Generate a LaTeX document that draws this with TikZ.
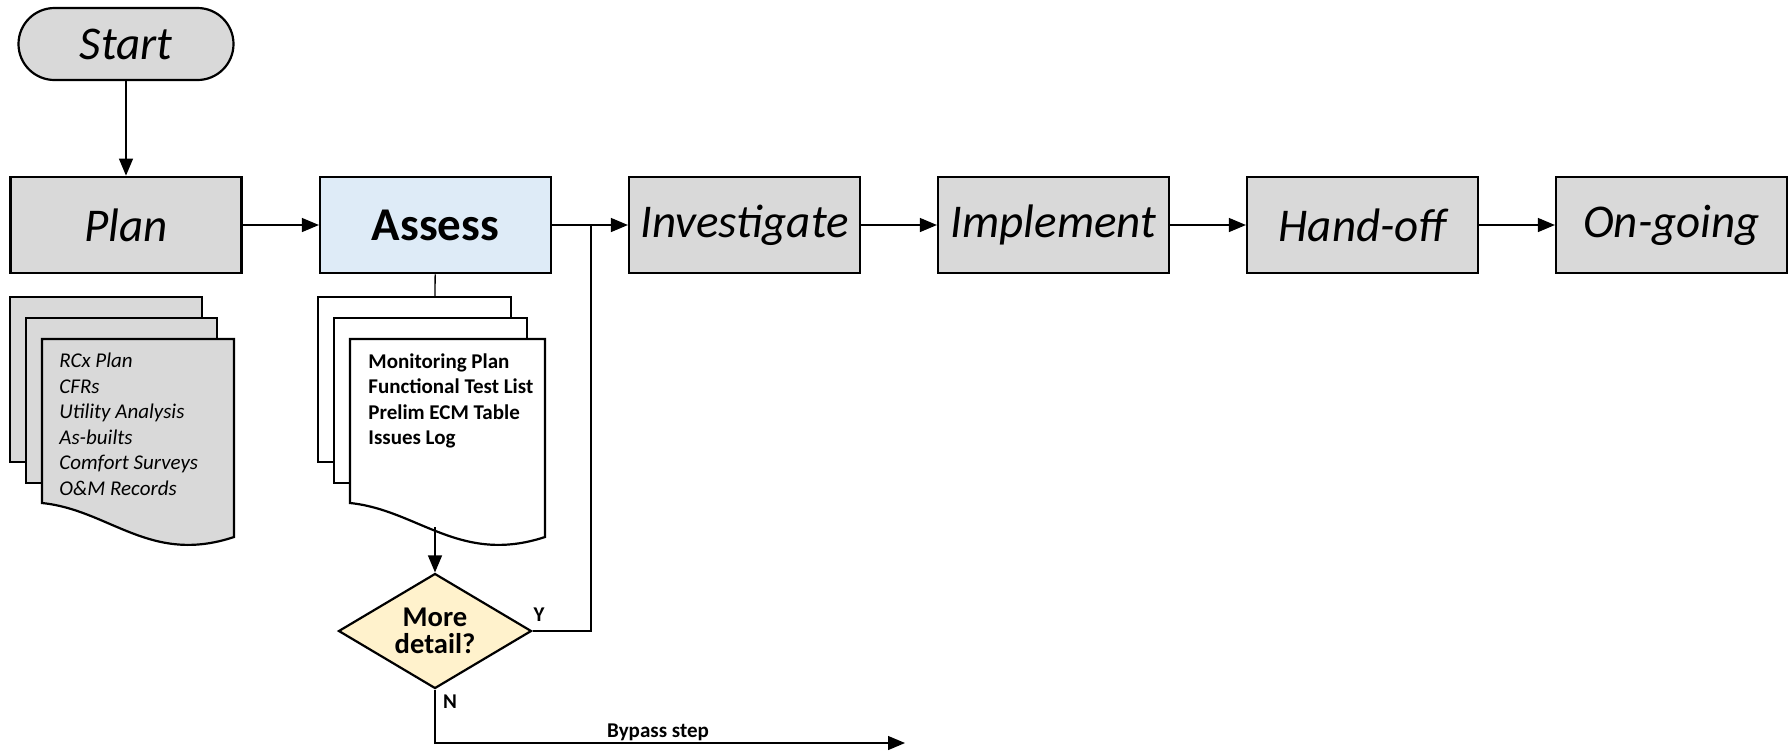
\documentclass[tikz,border=0pt]{standalone}
\usepackage{fontspec}
\setmainfont{Carlito}
\usetikzlibrary{arrows.meta,shapes.geometric}
\definecolor{boxgray}{HTML}{D9D9D9}
\definecolor{assessblue}{HTML}{DEEBF7}
\definecolor{askyellow}{HTML}{FFF2CC}
\begin{document}
\begin{tikzpicture}[x=.5pt,y=-.5pt,
  phase/.style={draw,line width=1.1pt,fill=boxgray,minimum width=115.5pt,minimum height=48.3pt,inner sep=0pt,font=\fontsize{23.5}{28}\selectfont\itshape},
  flow/.style={line width=.65pt,-{Triangle[length=8.5pt,width=7pt]}},
  link/.style={line width=.65pt},
  sheet/.style={draw,line width=1.1pt},
  doctext/.style={anchor=north west,inner sep=0pt,align=left},
  tag/.style={inner sep=0pt,font=\fontsize{10.5}{12}\selectfont\bfseries}]
\useasboundingbox (0,0) rectangle (1792,751);
\node[phase,rounded corners=18pt,minimum width=107.5pt,minimum height=36pt] (start) at (126,44) {Start};
\node[phase] (plan) at (126,225) {Plan};
\node[phase,fill=assessblue,font=\fontsize{23.5}{28}\selectfont\bfseries] (assess) at (435.5,225) {Assess};
\node[phase] (investigate) at (744.5,225) {Investigate};
\node[phase] (implement) at (1053.5,225) {Implement};
\node[phase] (handoff) at (1362.5,225) {Hand-off};
\node[phase] (ongoing) at (1671.5,225) {On-going};
\draw[flow] (start) -- (plan);
\draw[flow] (plan) -- (assess);
\draw[flow] (assess) -- (investigate);
\draw[flow] (investigate) -- (implement);
\draw[flow] (implement) -- (handoff);
\draw[flow] (handoff) -- (ongoing);
\draw[sheet,fill=boxgray] (10,297) rectangle (202,462);
\draw[sheet,fill=boxgray] (26,318) rectangle (217,483);
\draw[sheet,fill=boxgray] (42,339) -- (234,339) -- (234,537) .. controls (150,565) and (110,510) .. (42,503) -- cycle;
\node[doctext,font=\fontsize{10.5}{12.75}\selectfont\itshape] (plandocs) at (59,353) {RCx Plan\\CFRs\\Utility Analysis\\As-builts\\Comfort Surveys\\O\&M Records};
\coordinate (stacktop) at (435,297);
\draw[link] (assess) -- (stacktop);
\draw[sheet,fill=white] (318,297) rectangle (511,462);
\draw[sheet,fill=white] (334,318) rectangle (527,483);
\draw[sheet,fill=white] (350,339) -- (545,339) -- (545,537) .. controls (460,565) and (418,510) .. (350,503) -- cycle;
\node[doctext,font=\fontsize{10.5}{12.75}\selectfont\bfseries] (assessdocs) at (368,353) {Monitoring Plan\\Functional Test List\\Prelim ECM Table\\Issues Log};
\coordinate (stackend) at (435,527);
\node[draw,diamond,aspect=1.68,line width=1.1pt,fill=askyellow,inner sep=0pt,minimum width=96.5pt,minimum height=57.5pt,align=center,font=\fontsize{14.3}{13.5}\selectfont\bfseries] (ask) at (435,631) {More\\detail?};
\draw[flow] (stackend) -- (ask);
\coordinate (join) at (591,225);
\draw[link] (ask.east) -| (join);
\coordinate (bypass) at (905,743);
\draw[flow] (ask.south) |- (bypass);
\node[tag] (yes) at (539,615) {Y};
\node[tag] (no) at (450,702) {N};
\node[tag,anchor=base] (skip) at (658,737) {Bypass step};
\end{tikzpicture}
\end{document}
